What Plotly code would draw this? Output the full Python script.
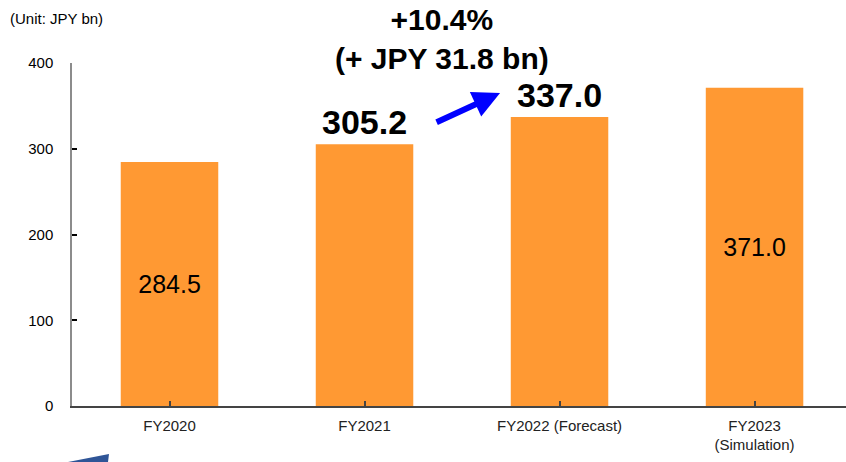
import plotly.graph_objects as go

categories = ["FY2020", "FY2021", "FY2022 (Forecast)", "FY2023<br>(Simulation)"]
values = [284.5, 305.2, 337.0, 371.0]
label_text = ["284.5", "<b>305.2</b>", "<b>337.0</b>", "371.0"]
label_pos = ["inside", "outside", "outside", "inside"]
label_size = [25, 34, 34, 25]
y_ticks = [0, 100, 200, 300, 400]
growth_text = "<b>+10.4%<br>(+ JPY 31.8 bn)</b>"
unit_text = "(Unit: JPY bn)"

BAR = "#FF9933"

fig = go.Figure()
fig.add_trace(go.Bar(
    x=list(range(len(categories))),
    y=values,
    width=0.5,
    marker=dict(color=BAR, line=dict(width=0)),
    text=label_text,
    textposition=label_pos,
    insidetextanchor="middle",
    textfont=dict(family="Arial, Liberation Sans, sans-serif", size=label_size, color="black"),
    constraintext="none",
    cliponaxis=False,
    hoverinfo="skip",
))

fig.update_layout(
    width=846, height=462,
    margin=dict(l=72, r=0, t=63, b=56),
    paper_bgcolor="white", plot_bgcolor="white",
    showlegend=False,
    font=dict(family="Arial, Liberation Sans, sans-serif", size=15, color="black"),
    xaxis=dict(
        range=[-0.5, 3.469],
        tickmode="array",
        tickvals=list(range(len(categories))),
        ticktext=categories,
        tickson="boundaries",
        ticks="inside", ticklen=5, tickcolor="#444", tickwidth=1.5,
        showline=True, linecolor="#444", linewidth=1.5,
        showgrid=False, zeroline=False,
        tickfont=dict(size=15, color="#222"),
        ticklabelstandoff=5,
        fixedrange=True,
    ),
    yaxis=dict(
        range=[0, 400],
        tickmode="array", tickvals=y_ticks,
        ticks="inside", ticklen=5, tickcolor="black", tickwidth=1.5,
        showline=True, linecolor="#8c8c8c", linewidth=1.5,
        showgrid=False, zeroline=False,
        tickfont=dict(size=15, color="black"),
        ticklabelstandoff=14,
        fixedrange=True,
    ),
)

# growth annotation text (above the plot area)
fig.add_annotation(
    x=0.478, y=1.0714, xref="paper", yref="paper",
    xanchor="center", yanchor="middle",
    text=growth_text, showarrow=False,
    font=dict(size=30, color="black"),
    align="center",
)

# blue arrow between FY2021 and FY2022
fig.add_annotation(
    x=1.695, y=365, xref="x", yref="y",
    ax=1.362, ay=330, axref="x", ayref="y",
    text="", showarrow=True,
    arrowhead=2, arrowsize=0.9, arrowwidth=6, arrowcolor="#0000FF",
)

# unit label
fig.add_annotation(
    x=-0.0827, y=1.160, xref="paper", yref="paper",
    xanchor="left", yanchor="top",
    text=unit_text, showarrow=False,
    font=dict(size=15, color="black"),
)

# partially visible decorative wedge at bottom-left
fig.add_shape(
    type="path", xref="paper", yref="paper",
    path="M -0.0052 -0.1633 L 0.0478 -0.1399 L 0.0465 -0.1633 Z",
    fillcolor="#2F5597", line=dict(width=0),
)

fig.write_html("out.html")
